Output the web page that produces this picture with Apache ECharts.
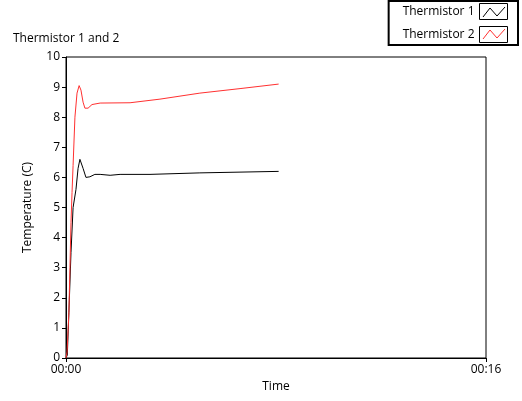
<!DOCTYPE html>
<html>
<head>
<meta charset="UTF-8">
<script src="https://cdn.jsdelivr.net/npm/echarts@6/dist/echarts.min.js"></script>
</head>
<body style="margin:0;background:#fff">
<div id="chart" style="width:522px;height:401px"></div>
<script>
// time in seconds, temperature in C
var t1 = [0, 0.05, 0.11, 0.19, 0.27, 0.38, 0.46, 0.53, 0.65, 0.76, 0.91, 1.1, 1.3, 1.68, 2.06, 3.2, 5.1, 8.1];
var v1 = [0, 0.1, 1.5, 3.5, 5.0, 5.6, 6.3, 6.6, 6.3, 6.0, 6.02, 6.1, 6.1, 6.07, 6.1, 6.1, 6.15, 6.2];
var t2 = [0, 0.04, 0.11, 0.15, 0.19, 0.23, 0.27, 0.34, 0.42, 0.5, 0.57, 0.65, 0.72, 0.84, 0.99, 1.3, 2.44, 3.58, 5.1, 6.63, 8.1];
var v2 = [0, 0.2, 1.5, 3.0, 4.5, 5.5, 6.4, 8.0, 8.8, 9.05, 8.9, 8.5, 8.3, 8.3, 8.42, 8.47, 8.48, 8.6, 8.8, 8.95, 9.1];
var names = ['Thermistor 1', 'Thermistor 2'];

function pairs(t, v) { return t.map(function (x, i) { return [x, v[i]]; }); }
function mmss(s) { var m = Math.floor(s / 60), r = Math.round(s % 60); return (m < 10 ? '0' : '') + m + ':' + (r < 10 ? '0' : '') + r; }

// zigzag glyph drawn inside each legend box
function zig(y, color) {
  return { type: 'polyline', silent: true, z: 100,
    shape: { points: [[483, y + 5], [490, y - 4], [497, y + 4], [505, y - 5]] },
    style: { stroke: color, lineWidth: 1, fill: 'none' } };
}

var chart = echarts.init(document.getElementById('chart'));
var txt = { color: '#000', fontFamily: 'Open Sans, DejaVu Sans, sans-serif', fontSize: 12 };
chart.setOption({
  animation: false,
  title: { text: 'Thermistor 1 and 2', left: 8, top: 28, textStyle: Object.assign({ fontWeight: 'normal' }, txt) },
  legend: {
    data: names, orient: 'vertical', right: 4, top: 1, align: 'right',
    borderColor: '#000', borderWidth: 2, padding: [2, 10, 2, 14], itemGap: 6,
    itemWidth: 28, itemHeight: 16, textStyle: txt, icon: 'rect',
    itemStyle: { color: '#fff', borderColor: '#000', borderWidth: 1 }
  },
  grid: { left: 66, right: 36, top: 57, bottom: 43 },
  xAxis: {
    type: 'value', min: 0, max: 16, interval: 16, name: 'Time', nameLocation: 'middle', nameGap: 20,
    nameTextStyle: txt,
    axisLine: { lineStyle: { color: '#000' } }, axisTick: { lineStyle: { color: '#000' }, length: 4 },
    axisLabel: Object.assign({ formatter: mmss, margin: 6 }, txt), splitLine: { show: false }
  },
  yAxis: {
    type: 'value', min: 0, max: 10, interval: 1, name: 'Temperature (C)', nameLocation: 'middle', nameGap: 32,
    nameTextStyle: txt,
    axisLine: { show: true, lineStyle: { color: '#000' } }, axisTick: { show: true, lineStyle: { color: '#000' }, length: 4 },
    axisLabel: Object.assign({ margin: 6 }, txt), splitLine: { show: false }
  },
  series: [
    { name: names[0], type: 'line', data: pairs(t1, v1), symbol: 'none', lineStyle: { color: '#000', width: 1 }, itemStyle: { color: '#000' } },
    { name: names[1], type: 'line', data: pairs(t2, v2), symbol: 'none', lineStyle: { color: '#ff3030', width: 1 }, itemStyle: { color: '#ff3030' } }
  ],
  graphic: [
    { type: 'rect', shape: { x: 66, y: 57, width: 420, height: 301 }, style: { fill: 'none', stroke: '#000', lineWidth: 1 }, silent: true },
    zig(12, '#000'), zig(34, '#ff3030')
  ]
});
</script>
</body>
</html>
